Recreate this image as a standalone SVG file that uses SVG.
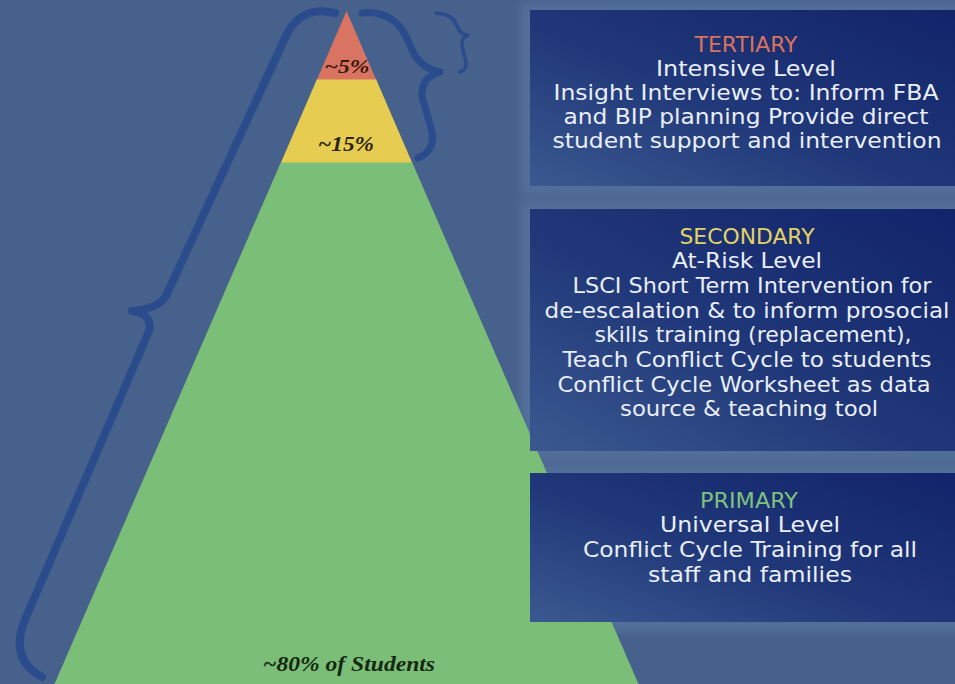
<svg xmlns="http://www.w3.org/2000/svg" width="955" height="684" viewBox="0 0 955 684">
  <defs>
    <linearGradient id="boxGrad" x1="1" y1="0" x2="0" y2="1">
      <stop offset="0" stop-color="#12236a"/>
      <stop offset="0.55" stop-color="#203879"/>
      <stop offset="1" stop-color="#3b5990"/>
    </linearGradient>
    <filter id="blur" x="-10%" y="-20%" width="120%" height="140%">
      <feGaussianBlur stdDeviation="4"/>
    </filter>
    <style>
      .bg { fill: #46628c; }
      .glow { fill: #5b79a6; opacity: 0.55; filter: url(#blur); }
      .box { fill: url(#boxGrad); }
      .txt { font-family: "DejaVu Sans", "Noto Sans", sans-serif; font-size: 21.5px; fill: #e9eef8; text-anchor: middle; }
      .head { font-size: 21px; }
      .pct { font-family: "Liberation Serif", "Times New Roman", serif; font-weight: bold; font-style: italic; text-anchor: middle; }
      .brace { fill: none; stroke: #2b4c8c; stroke-linecap: round; stroke-linejoin: round; }
    </style>
  </defs>

  <rect class="bg" x="0" y="0" width="955" height="684"/>

  <!-- glows behind boxes -->
  <rect class="glow" x="520" y="2" width="445" height="194"/>
  <rect class="glow" x="520" y="200" width="445" height="261"/>
  <rect class="glow" x="520" y="464" width="445" height="168"/>

  <!-- pyramid -->
  <g id="pyramid">
    <polygon id="tier-primary" points="281,162 412,162 638.5,684 54.5,684" fill="#7bbe78"/>
    <polygon id="tier-secondary" points="317,79 376,79 412,162.5 281,162.5" fill="#e6cd52"/>
    <polygon id="tier-tertiary" points="346.5,11 376,79.5 317,79.5" fill="#d87461"/>
    <text class="pct" x="347" y="73" font-size="18.5" fill="#3b1810" textLength="45" lengthAdjust="spacingAndGlyphs">~5%</text>
    <text class="pct" x="346" y="151" font-size="20" fill="#2a2410" textLength="56" lengthAdjust="spacingAndGlyphs">~15%</text>
    <text class="pct" x="349" y="671" font-size="22" fill="#152812" textLength="172" lengthAdjust="spacingAndGlyphs">~80% of Students</text>
  </g>

  <!-- braces -->
  <g id="connectors">
    <path class="brace" stroke-width="8" d="M 335 13 C 314 8 296 14 286 36 L 166 296 Q 158 309 132 311 Q 153 314 149 331 L 24 622 Q 10 660 42 677"/>
    <path class="brace" stroke-width="7" d="M 362 13 C 386 10 401 22 410 45 Q 418 68 440 72 Q 421 77 422 97 L 431 128 Q 437 150 418 158"/>
    <path class="brace" stroke-width="3.5" d="M 436 13 Q 452 14 456 24 L 459 30 Q 462 35 468 35 Q 461 38 462 46 L 466 62 Q 467 70 460 72"/>
  </g>

  <!-- tertiary box -->
  <g id="box-tertiary">
    <rect class="box" x="530" y="10" width="430" height="176"/>
    <text class="txt head" x="746" y="52" style="fill:#d9735e" textLength="103" lengthAdjust="spacingAndGlyphs">TERTIARY</text>
    <text class="txt" x="746" y="76" textLength="180" lengthAdjust="spacingAndGlyphs">Intensive Level</text>
    <text class="txt" x="746" y="100" textLength="385" lengthAdjust="spacingAndGlyphs">Insight Interviews to: Inform FBA</text>
    <text class="txt" x="746" y="124" textLength="365" lengthAdjust="spacingAndGlyphs">and BIP planning Provide direct</text>
    <text class="txt" x="747" y="148" textLength="389" lengthAdjust="spacingAndGlyphs">student support and intervention</text>
  </g>

  <!-- secondary box -->
  <g id="box-secondary">
    <rect class="box" x="530" y="209" width="430" height="242"/>
    <text class="txt head" x="747" y="244" style="fill:#e2d364" textLength="135" lengthAdjust="spacingAndGlyphs">SECONDARY</text>
    <text class="txt" x="747" y="268" textLength="150" lengthAdjust="spacingAndGlyphs">At-Risk Level</text>
    <text class="txt" x="752" y="293" textLength="359" lengthAdjust="spacingAndGlyphs">LSCI Short Term Intervention for</text>
    <text class="txt" x="747" y="318" textLength="405" lengthAdjust="spacingAndGlyphs">de-escalation &amp; to inform prosocial</text>
    <text class="txt" x="753" y="342" textLength="317" lengthAdjust="spacingAndGlyphs">skills training (replacement),</text>
    <text class="txt" x="747" y="367" textLength="369" lengthAdjust="spacingAndGlyphs">Teach Conflict Cycle to students</text>
    <text class="txt" x="744" y="392" textLength="373" lengthAdjust="spacingAndGlyphs">Conflict Cycle Worksheet as data</text>
    <text class="txt" x="749" y="416" textLength="258" lengthAdjust="spacingAndGlyphs">source &amp; teaching tool</text>
  </g>

  <!-- primary box -->
  <g id="box-primary">
    <rect class="box" x="530" y="473" width="430" height="149"/>
    <text class="txt head" x="749" y="508" style="fill:#7ec17c" textLength="98" lengthAdjust="spacingAndGlyphs">PRIMARY</text>
    <text class="txt" x="750" y="532" textLength="180" lengthAdjust="spacingAndGlyphs">Universal Level</text>
    <text class="txt" x="750" y="557" textLength="334" lengthAdjust="spacingAndGlyphs">Conflict Cycle Training for all</text>
    <text class="txt" x="750" y="582" textLength="204" lengthAdjust="spacingAndGlyphs">staff and families</text>
  </g>
</svg>
